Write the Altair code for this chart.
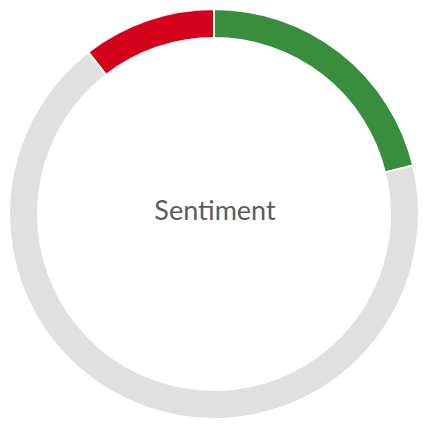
import altair as alt
import pandas as pd

categories = ["Positive", "Neutral", "Negative"]
values = [21.2, 68.3, 10.5]
colors = ["#388E3C", "#E0E0E0", "#D50019"]
order = [0, 1, 2]

df = pd.DataFrame({"category": categories, "value": values, "order": order})

arc = alt.Chart(df).mark_arc(outerRadius=205, innerRadius=176, stroke="white", strokeWidth=2).encode(
    theta=alt.Theta("value:Q", stack=True),
    order=alt.Order("order:Q"),
    color=alt.Color("category:N", scale=alt.Scale(domain=categories, range=colors), legend=None),
    x=alt.value(206),
    y=alt.value(206),
)

label = alt.Chart(pd.DataFrame({"t": ["Sentiment"]})).mark_text(
    font="Lato", fontSize=27, color="#5c5c5c", baseline="middle", align="center"
).encode(text="t:N", x=alt.value(207), y=alt.value(204))

chart = alt.layer(arc, label).properties(width=411, height=411, padding=0, autosize="none").configure_view(stroke=None)
chart.save("out.html", embed_options={"renderer": "svg", "actions": False})
